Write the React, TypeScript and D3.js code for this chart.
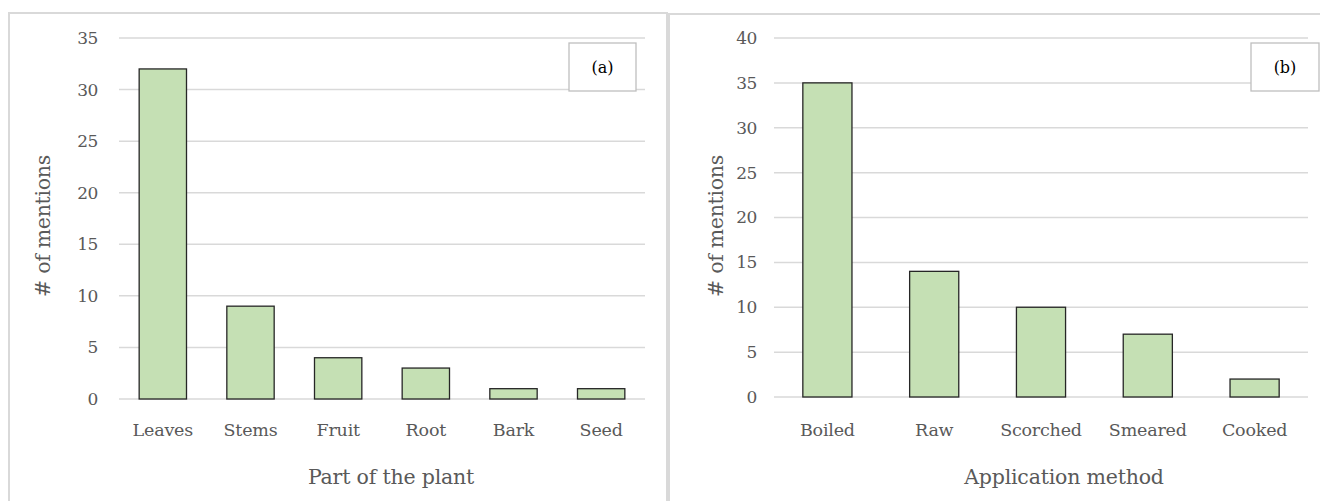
import React from "react";
import * as d3 from "d3";

const partCategories = ["Leaves", "Stems", "Fruit", "Root", "Bark", "Seed"];
const partValues = [32, 9, 4, 3, 1, 1];
const partTicks = [0, 5, 10, 15, 20, 25, 30, 35];

const methodCategories = ["Boiled", "Raw", "Scorched", "Smeared", "Cooked"];
const methodValues = [35, 14, 10, 7, 2];
const methodTicks = [0, 5, 10, 15, 20, 25, 30, 35, 40];

const FONT = "'DejaVu Serif', 'Liberation Serif', serif";
const TXT = "#595959";
const GRID = "#d9d9d9";

type PanelProps = {
  cats: string[];
  vals: number[];
  ticks: number[];
  x0: number;
  x1: number;
  y0: number;
  y1: number;
  pad: number;
  tickX: number;
  yTitleX: number;
  xTitleX: number;
  xTitle: string;
  tag: string;
  box: [number, number, number, number];
};

function Panel(p: PanelProps) {
  const max = p.ticks[p.ticks.length - 1];
  const x = d3.scaleBand<string>().domain(p.cats).range([p.x0, p.x1]).paddingInner(p.pad).paddingOuter(p.pad / 2);
  const y = d3.scaleLinear().domain([0, max]).range([p.y0, p.y1]);
  return (
    <g>
      {p.ticks.map((t) => (
        <g key={t}>
          <line x1={p.x0} x2={p.x1} y1={y(t)} y2={y(t)} stroke={GRID} strokeWidth={1.5} />
          <text x={p.tickX} y={y(t)} dy="0.35em" textAnchor="end" fontSize={17} fill={TXT} fontFamily={FONT} letterSpacing={-0.4}>
            {t}
          </text>
        </g>
      ))}
      {p.cats.map((c, i) => (
        <g key={c}>
          <rect
            x={x(c)!}
            y={y(p.vals[i])}
            width={x.bandwidth()}
            height={y(0) - y(p.vals[i])}
            fill="#c5e0b4"
            stroke="#262626"
            strokeWidth={1.3}
          />
          <text x={x(c)! + x.bandwidth() / 2} y={436} textAnchor="middle" fontSize={17.5} fill={TXT} fontFamily={FONT} letterSpacing={-0.2}>
            {c}
          </text>
        </g>
      ))}
      <text x={p.xTitleX} y={484} textAnchor="middle" fontSize={20.5} fill={TXT} fontFamily={FONT} letterSpacing={-0.2}>
        {p.xTitle}
      </text>
      <text
        transform={`translate(${p.yTitleX},${226}) rotate(-90)`}
        textAnchor="middle"
        fontSize={20.5}
        fill={TXT}
        fontFamily={FONT}
        letterSpacing={-0.3}
      >
        # of mentions
      </text>
      <rect x={p.box[0]} y={p.box[1]} width={p.box[2]} height={p.box[3]} fill="#fff" stroke="#bfbfbf" strokeWidth={1.3} />
      <text x={p.box[0] + p.box[2] / 2} y={p.box[1] + p.box[3] / 2} dy="0.35em" textAnchor="middle" fontSize={16} fill="#000" fontFamily={FONT}>
        {p.tag}
      </text>
    </g>
  );
}

export default function App() {
  return (
    <svg width={1320} height={501} style={{ position: "absolute", left: 0, top: 0, background: "#fff" }}>
      <rect x={0} y={0} width={1320} height={501} fill="#fff" />
      <rect x={9} y={13} width={658} height={500} fill="none" stroke={GRID} strokeWidth={2} />
      <rect x={669} y={14} width={660} height={500} fill="none" stroke={GRID} strokeWidth={2} />
      <Panel
        cats={partCategories}
        vals={partValues}
        ticks={partTicks}
        x0={119}
        x1={645}
        y0={399}
        y1={38}
        pad={0.46}
        tickX={98}
        yTitleX={50}
        xTitleX={391}
        xTitle="Part of the plant"
        tag="(a)"
        box={[569, 43, 67, 48]}
      />
      <Panel
        cats={methodCategories}
        vals={methodValues}
        ticks={methodTicks}
        x0={774}
        x1={1308}
        y0={397}
        y1={38}
        pad={0.54}
        tickX={757}
        yTitleX={723}
        xTitleX={1064}
        xTitle="Application method"
        tag="(b)"
        box={[1251, 43, 68, 48]}
      />
    </svg>
  );
}
